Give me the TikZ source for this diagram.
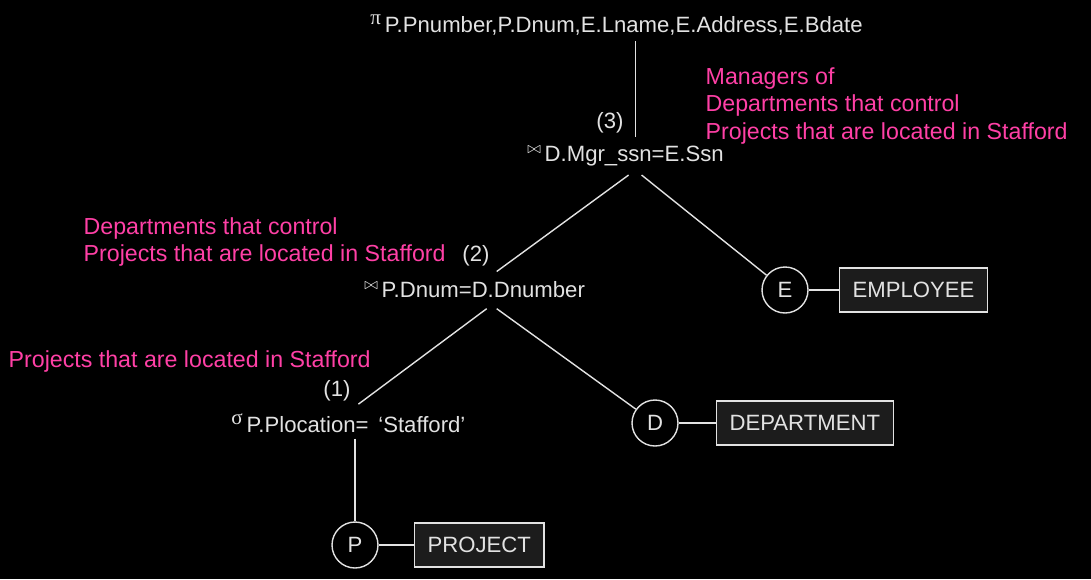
\documentclass[tikz,border=0pt]{standalone}
\usepackage{amsmath}
\usepackage{amssymb}
\usepackage{fontspec}
\setmainfont{Liberation Sans}
\newfontfamily\greekfont{Liberation Serif}
\usepackage{tikz}
\usetikzlibrary{calc, shapes, arrows}
\usetikzlibrary{positioning}
\definecolor{fg}{HTML}{E2E2E2}
\definecolor{note}{HTML}{FF40A6}
\definecolor{boxfill}{HTML}{1C1C1C}
\tikzstyle{op} = [text=fg, inner sep=1pt, anchor=base west]
\tikzstyle{stepno} = [text=fg, inner sep=0pt]
\tikzstyle{leaf} = [draw=fg, circle, text=fg, minimum size=0.92cm, inner sep=0pt]
\tikzstyle{block} = [draw=fg, fill=boxfill, rectangle, text=fg,
    minimum height=0.88cm, inner xsep=7.5pt]
\tikzstyle{annot} = [text=note, align=left, anchor=north west, inner sep=0pt,
    font=\fontsize{13.2}{15.6}\selectfont]
\newcommand{\opsym}[2][12]{\raisebox{0.65ex}{\fontsize{#1}{#1}\selectfont #2}\,}

\begin{document}
\begin{tikzpicture}[x=0.02cm, y=-0.02cm, line width=0.8pt, draw=fg,
        font=\fontsize{12.6}{15.6}\selectfont]
            \fill[black] (0,0) rectangle (1091,579);
            \useasboundingbox (0,0) rectangle (1091,579);

            \node[op, name=proj] at (368, 32) {\opsym{\greekfont π}P.Pnumber,P.Dnum,E.Lname,E.Address,E.Bdate};
            \node[op, name=join3] at (525, 161) {\opsym[9.5]{$\bowtie$}D.Mgr\_ssn=E.Ssn};
            \node[op, name=join2] at (362, 297) {\opsym[9.5]{$\bowtie$}P.Dnum=D.Dnumber};
            \node[op, name=sel] at (229, 432) {\opsym{\greekfont σ}P.Plocation=\, ‘Stafford’};

            \node[leaf, name=E] at (785, 290) {E};
            \node[leaf, name=D] at (655, 423) {D};
            \node[leaf, name=P] at (355, 545) {P};

            \node[block, right=0.6cm of E, name=emp] {EMPLOYEE};
            \node[block, right=0.74cm of D, name=dept] {DEPARTMENT};
            \node[block, right=0.7cm of P, name=project] {PROJECT};

            \node[stepno, name=s3] at (610, 123) {(3)};
            \node[stepno, name=s2] at (476, 256) {(2)};
            \node[stepno, name=s1] at (337, 391) {(1)};

            \draw ([shift={(10, 4)}]proj.south -| join3.north) -- ([shift={(10, -6)}]join3.north);
            \draw ([shift={(3, 7)}]join3.south) -- ([shift={(22, -7)}]join2.north);
            \draw ([shift={(16, 7)}]join3.south) -- (E);
            \draw ([shift={(12, 9)}]join2.south) -- ([shift={(10, -7)}]sel.north);
            \draw ([shift={(22, 9)}]join2.south) -- (D);
            \draw ([shift={(0, 4)}]sel.south -| P) -- (P);
            \draw (E) -- (emp);
            \draw (D) -- (dept);
            \draw (P) -- (project);

            \node[annot, name=note3] at (705, 67) {Managers of\\Departments that control\\Projects that are located in Stafford};
            \node[annot, name=note2] at (83, 217) {Departments that control\\Projects that are located in Stafford};
            \node[annot, name=note1] at (8, 350) {Projects that are located in Stafford};
        \end{tikzpicture}
\end{document}
